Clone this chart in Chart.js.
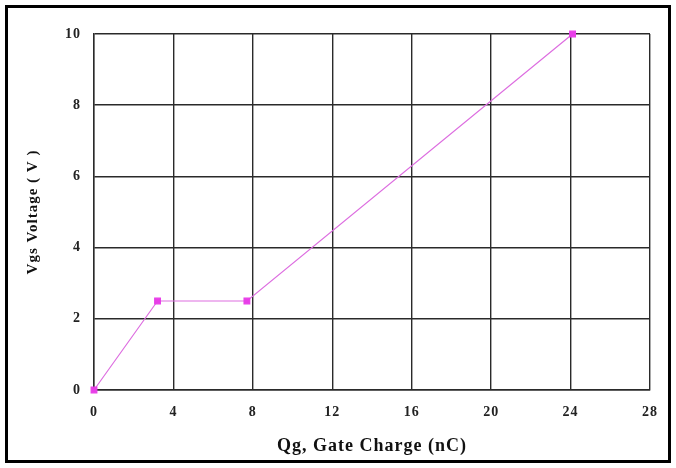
<!DOCTYPE html>
<html>
<head>
<meta charset="utf-8">
<script src="https://cdn.jsdelivr.net/npm/chart.js@4"></script>
<style>
  html, body { margin: 0; padding: 0; background: #fff; }
  #wrap { width: 676px; height: 468px; }
</style>
</head>
<body>
<div id="wrap"><canvas id="gate"></canvas></div>
<script>
// gate charge curve
const gateCharge = [0, 3.2, 7.7, 24.1];   // Qg, nC
const vgsVoltage = [0, 2.5, 2.5, 10];     // Vgs, V
const xTicks = [0, 4, 8, 12, 16, 20, 24, 28];
const yTicks = [0, 2, 4, 6, 8, 10];

const serif = "'Liberation Serif', 'Times New Roman', serif";

// black frame round the whole picture, and the wide letter spacing of the scan
const frame = {
    id: 'frame',
    beforeDraw(chart) {
        chart.ctx.letterSpacing = '1px';
    },
    afterDraw(chart) {
        const c = chart.ctx;
        c.save();
        c.strokeStyle = '#000';
        c.lineWidth = 3;
        c.strokeRect(6.5, 6.5, 663, 455);
        c.restore();
    }
};

const points = gateCharge.map((q, i) => ({x: q, y: vgsVoltage[i]}));

new Chart(document.getElementById('gate'), {
    type: 'scatter',
    data: {
        datasets: [{
            data: points,
            showLine: true,
            clip: false,
            borderColor: '#dd6ee0',
            borderWidth: 1.2,
            pointStyle: 'rect',
            pointRadius: 4,
            pointBackgroundColor: '#e83ee8',
            pointBorderColor: '#e83ee8',
        }]
    },
    options: {
        responsive: true,
        maintainAspectRatio: false,
        animation: false,
        layout: {
            padding: {left: 0, top: 34, right: 26, bottom: 0}
        },
        plugins: {
            legend: {display: false},
            tooltip: {enabled: false}
        },
        scales: {
            x: {
                type: 'linear',
                min: 0,
                max: 28,
                afterFit: s => { s.height = 78; },
                afterBuildTicks: s => { s.ticks = xTicks.map(v => ({value: v})); },
                grid: {color: '#2a2a2a', lineWidth: 1.4, drawTicks: false},
                border: {color: '#2a2a2a', width: 1.4},
                ticks: {
                    padding: 14,
                    color: '#222',
                    font: {family: serif, size: 14, weight: 'bold'}
                },
                title: {
                    display: true,
                    text: 'Qg, Gate Charge (nC)',
                    color: '#111',
                    font: {family: serif, size: 18, weight: 'bold'},
                    padding: {top: 0, bottom: 11}
                }
            },
            y: {
                type: 'linear',
                min: 0,
                max: 10,
                afterFit: s => { s.width = 94; },
                afterBuildTicks: s => { s.ticks = yTicks.map(v => ({value: v})); },
                grid: {color: '#2a2a2a', lineWidth: 1.4, drawTicks: false},
                border: {color: '#2a2a2a', width: 1.4},
                ticks: {
                    padding: 13,
                    color: '#222',
                    font: {family: serif, size: 14, weight: 'bold'}
                },
                title: {
                    display: true,
                    text: 'Vgs Voltage ( V )',
                    color: '#111',
                    font: {family: serif, size: 15, weight: 'bold'},
                    padding: {top: 24, bottom: 0}
                }
            }
        }
    },
    plugins: [frame]
});
</script>
</body>
</html>
